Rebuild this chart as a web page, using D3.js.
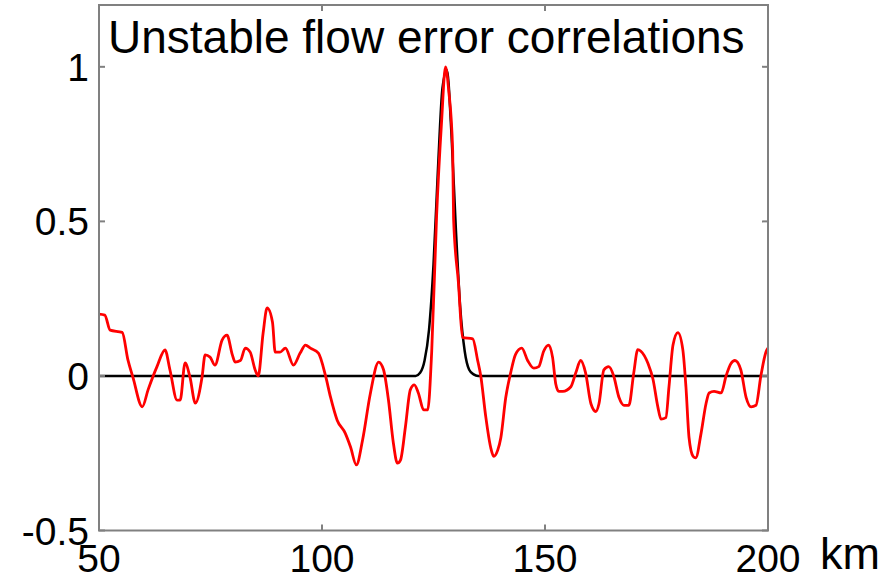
<!DOCTYPE html>
<html>
<head>
<meta charset="utf-8">
<style>
  body { margin: 0; background: #fff; }
  text { font-family: "Liberation Sans", Arial, sans-serif; fill: #000; }
</style>
</head>
<body>
<svg width="894" height="577"></svg>
<script src="https://d3js.org/d3.v7.min.js"></script>
<script>

// analytic (reference) correlation, km / value
var trueKm  = [50, 121, 122, 123, 124, 125, 126, 127, 128, 129, 130, 131, 132, 133, 134, 135, 200];
var trueVal = [0, 0, 0.01, 0.05, 0.15, 0.36, 0.67, 0.93, 0.99, 0.79, 0.48, 0.22, 0.08, 0.02, 0.005, 0, 0];

// sampled (ensemble) correlation, km / value
var estKm = [50, 51.3, 52.5, 55.2, 56.5, 57.6, 59.7, 61.0, 63.0, 64.8, 65.9, 67.5, 68.2, 69.3, 70.4,
  71.6, 73.1, 73.8, 74.9, 76.0, 77.6, 78.7, 79.9, 80.5, 81.7, 82.8, 83.9, 85.0, 85.7, 86.8, 87.7,
  88.9, 89.5, 90.6, 91.8, 93.6, 95.1, 96.3, 97.4, 99.2, 100.8, 101.9, 103.4, 105.2, 106.4, 107.7,
  109.1, 110.8, 112.7, 113.8, 114.9, 116.0, 116.9, 117.6, 118.7, 119.8, 120.7, 121.6, 122.8,
  123.7, 124.6, 125.7, 126.8, 127.7, 128.4, 129.3, 129.5, 130.6, 131.5, 133.8, 134.9, 135.6, 136.7,
  137.8, 138.5, 139.4, 140.1, 141.2, 142.3, 143.4, 144.8, 146.1, 147.5, 148.6, 149.7, 150.8, 151.7,
  152.4, 153.1, 154.0, 155.8, 156.9, 158.0, 159.1, 160.3, 161.4, 162.1, 163.2, 164.3, 165.4, 166.6,
  167.7, 168.8, 169.9, 170.8, 171.5, 173.1, 174.2, 175.3, 176.0, 177.1, 177.8, 178.7, 179.8, 180.9,
  181.6, 182.3, 183.2, 183.8, 185.0, 186.1, 186.8, 187.9, 189.5, 190.6, 191.7, 192.6, 193.9, 195.1,
  196.2, 197.3, 198.4, 199.6, 200];
var estVal = [0.20, 0.197, 0.148, 0.141, 0.051, -0.004, -0.10, -0.045, 0.03, 0.084, 0.02, -0.078, -0.078, 0.042, -0.004,
  -0.088, -0.004, 0.068, 0.061, 0.035, 0.116, 0.132, 0.068, 0.045, 0.05, 0.09, 0.077, 0.02, 0, 0.139, 0.22,
  0.174, 0.077, 0.077, 0.09, 0.035, 0.074, 0.10, 0.09, 0.074, 0, -0.068, -0.143, -0.185, -0.23, -0.288,
  -0.207, -0.06, 0.045, 0.02, -0.078, -0.217, -0.282, -0.272, -0.165, -0.045, -0.029, -0.055, -0.11,
  -0.11, 0.08, 0.52, 0.82, 1.0, 0.925, 0.73, 0.51, 0.30, 0.125, 0.12, 0.05, 0, -0.13,
  -0.23, -0.26, -0.24, -0.20, -0.07, 0.01, 0.07, 0.09, 0.05, 0.025, 0.03, 0.08, 0.10, 0.06,
  -0.025, -0.05, -0.05, -0.035, 0.01, 0.05, 0.01, -0.09, -0.115, -0.09, 0.02, 0.03, 0, -0.07,
  -0.095, -0.095, 0.01, 0.085, 0.08, 0.04, -0.01, -0.10, -0.14, -0.135, -0.035, 0.10, 0.14, 0.085,
  -0.035, -0.20, -0.26, -0.265, -0.185, -0.09, -0.055, -0.05, -0.055, 0, 0.04, 0.05, 0.02, -0.07,
  -0.10, -0.095, 0, 0.08, 0.09];

var xTicks = [50, 100, 150, 200];
var yTicks = [-0.5, 0, 0.5, 1];

var svg = d3.select("svg"),
    plotL = 99, plotR = 768, plotT = 5, plotB = 530.5;

var x = d3.scaleLinear().domain([50, 200]).range([plotL, plotR]);
var y = d3.scaleLinear().domain([-0.5, 1.2]).range([plotB, plotT]);

var line = d3.line()
    .x(function(d) { return x(d[0]); })
    .y(function(d) { return y(d[1]); })
    .curve(d3.curveMonotoneX);

// true correlation (black)
svg.append("path")
    .datum(d3.zip(trueKm, trueVal))
    .attr("fill", "none")
    .attr("stroke", "#000")
    .attr("stroke-width", 2.5)
    .attr("d", line);

// sampled correlation (red)
svg.append("path")
    .datum(d3.zip(estKm, estVal))
    .attr("fill", "none")
    .attr("stroke", "#ff0000")
    .attr("stroke-width", 2.8)
    .attr("stroke-linejoin", "round")
    .attr("d", line);

// axes box, matlab style ticks inside
var ax = svg.append("g")
    .attr("stroke", "#808080")
    .attr("stroke-width", 2);

ax.append("rect")
    .attr("x", plotL).attr("y", plotT)
    .attr("width", plotR - plotL).attr("height", plotB - plotT)
    .attr("fill", "none");

xTicks.forEach(function(t) {
  ax.append("line").attr("x1", x(t)).attr("x2", x(t)).attr("y1", plotB).attr("y2", plotB - 6);
  ax.append("line").attr("x1", x(t)).attr("x2", x(t)).attr("y1", plotT).attr("y2", plotT + 6);
});
yTicks.forEach(function(t) {
  ax.append("line").attr("x1", plotL).attr("x2", plotL + 6).attr("y1", y(t)).attr("y2", y(t));
  ax.append("line").attr("x1", plotR).attr("x2", plotR - 6).attr("y1", y(t)).attr("y2", y(t));
});

svg.selectAll(".xl")
  .data(xTicks)
  .enter().append("text")
    .attr("x", function(d) { return x(d); })
    .attr("y", 572)
    .attr("text-anchor", "middle")
    .attr("font-size", 39)
    .text(function(d) { return d; });

svg.selectAll(".yl")
  .data(yTicks)
  .enter().append("text")
    .attr("x", 89)
    .attr("y", function(d) { return y(d); })
    .attr("dy", "0.36em")
    .attr("text-anchor", "end")
    .attr("font-size", 39)
    .text(function(d) { return d; });

svg.append("text")
    .attr("x", 820)
    .attr("y", 569)
    .attr("font-size", 45)
    .text("km");

svg.append("text")
    .attr("x", 108)
    .attr("y", 53)
    .attr("font-size", 46)
    .text("Unstable flow error correlations");

</script>
</body>
</html>
